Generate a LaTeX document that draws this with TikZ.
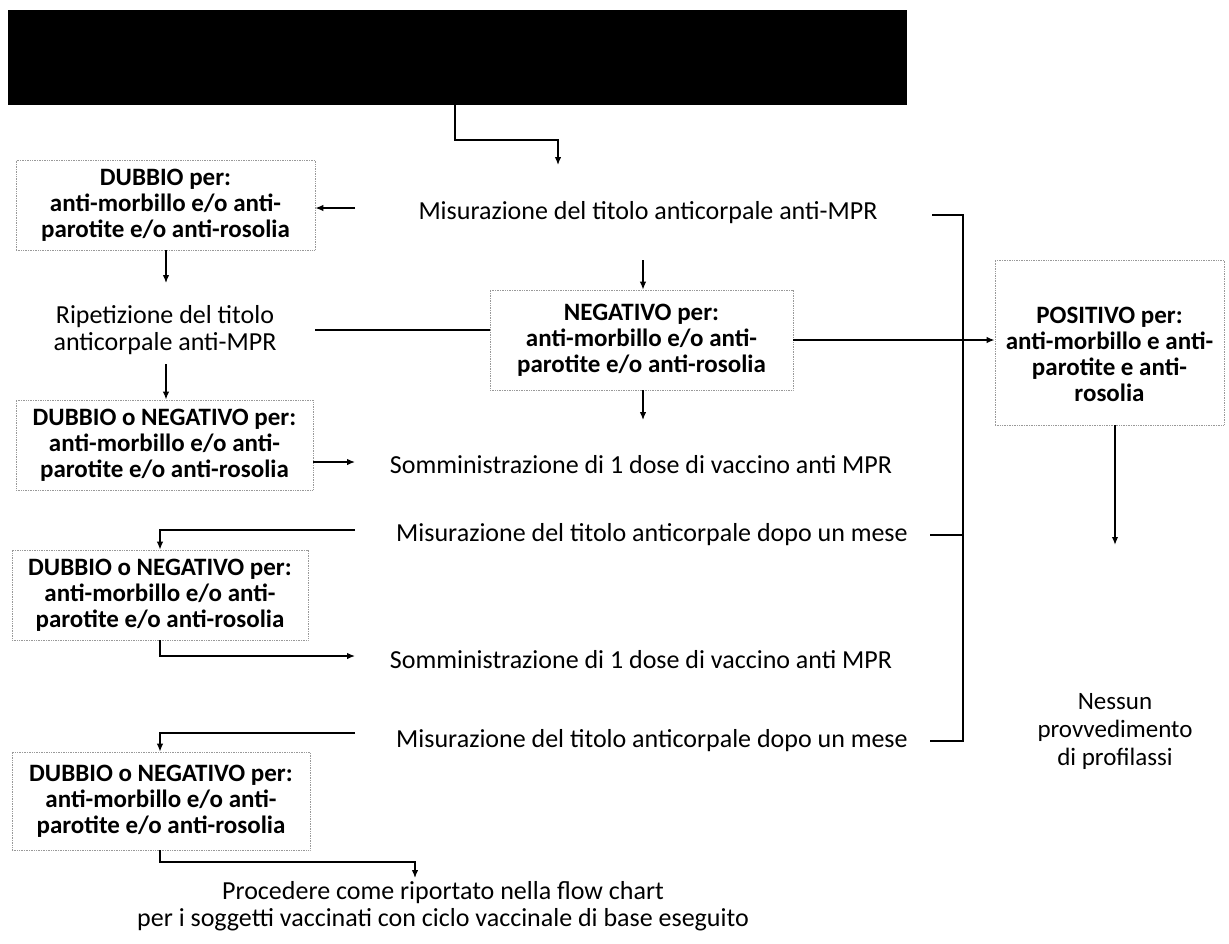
\documentclass[tikz,border=0pt]{standalone}
\usepackage{fontspec}
\setmainfont{Carlito}
\usetikzlibrary{arrows.meta}
\begin{document}
\begin{tikzpicture}[x=1pt,y=-1pt,
  txt/.style={align=center,font=\fontsize{26}{27}\selectfont,inner sep=0pt},
  box/.style={draw=black!40,densely dotted,line width=0.7pt,align=center,
    font=\fontsize{25}{26}\selectfont\bfseries,inner sep=0pt},
  btxt/.style={align=center,font=\fontsize{25}{26}\selectfont\bfseries,inner sep=0pt},
  thin/.style={line width=1.3pt},
  thick/.style={line width=2.4pt},
  arr/.style={-{Latex[length=8pt,width=6.5pt]}}]
\useasboundingbox (0,0) rectangle (1229,943);
% title bar
\node[fill=black,minimum width=899pt,minimum height=95pt,inner sep=0pt] (bar) at (457.5,57.5) {};
% texts
\node[txt] (m1) at (648,213) {Misurazione del titolo anticorpale anti-MPR};
\node[box,minimum width=299pt,minimum height=90pt] (dub) at (165.5,205)
  {DUBBIO per:\\anti-morbillo e/o anti-\\parotite e/o anti-rosolia};
\node[txt] (rip) at (165,330) {Ripetizione del titolo\\anticorpale anti-MPR};
\node[box,minimum width=303pt,minimum height=100pt] (neg) at (641.5,340)
  {NEGATIVO per:\\anti-morbillo e/o anti-\\parotite e/o anti-rosolia};
\node[box,minimum width=229pt,minimum height=165pt] (pos) at (1109.5,342.5) {};
\node[btxt] (postxt) at (1109.5,354) {POSITIVO per:\\anti-morbillo e anti-\\parotite e anti-\\rosolia};
\node[txt,font=\fontsize{25}{28}\selectfont] (nes) at (1115,731) {Nessun\\provvedimento\\di profilassi};
\node[box,minimum width=297pt,minimum height=90pt] (dn1) at (164.5,445)
  {DUBBIO o NEGATIVO per:\\anti-morbillo e/o anti-\\parotite e/o anti-rosolia};
\node[txt] (s1) at (641,465) {Somministrazione di 1 dose di vaccino anti MPR};
\node[txt] (m2) at (652,535) {Misurazione del titolo anticorpale dopo un mese};
\node[box,minimum width=296pt,minimum height=90pt] (dn2) at (160,595)
  {DUBBIO o NEGATIVO per:\\anti-morbillo e/o anti-\\parotite e/o anti-rosolia};
\node[txt] (s2) at (641,660) {Somministrazione di 1 dose di vaccino anti MPR};
\node[txt] (m3) at (652,741) {Misurazione del titolo anticorpale dopo un mese};
\node[box,minimum width=298pt,minimum height=98pt] (dn3) at (161,801)
  {DUBBIO o NEGATIVO per:\\anti-morbillo e/o anti-\\parotite e/o anti-rosolia};
\node[txt] (proc) at (443,906) {Procedere come riportato nella flow chart\\per i soggetti vaccinati con ciclo vaccinale di base eseguito};
% helper coordinates
\coordinate (c1) at (355,208);
\coordinate (c2) at (355,462);
\coordinate (c3) at (355,530);
\coordinate (c4) at (355,656);
\coordinate (c5) at (355,733);
\coordinate (b1) at (932,215);
\coordinate (b2) at (930,535);
\coordinate (b3) at (930,741);
\coordinate (bx) at (963,340);
% connectors
\draw[thin,arr] (bar.south -| 455,0) -- (455,140) -- (558,140) -- (558,165);
\draw[thin,arr] (c1) -- (dub.east |- c1);
\draw[thin,arr] (dub.south -| 166,0) -- (166,283);
\draw[thick] (315,330) -- (neg.west |- 0,330);
\draw[thin,arr] (643,260) -- (neg.north -| 643,0);
\draw[thin,arr] (neg.south -| 643,0) -- (643,420);
\draw[thick,arr] (neg.east) -- (pos.west |- neg.east);
\draw[thick] (b1) -- (b1 -| bx) -- (b3 -| bx) -- (b3);
\draw[thick] (b2) -- (b2 -| bx);
\draw[thick,arr] (pos.south -| 1115,0) -- (1115,545);
\draw[thick,arr] (166,364) -- (dn1.north -| 166,0);
\draw[thin,arr] (dn1.east |- c2) -- (c2);
\draw[thin,arr] (c3) -- (160,530) -- (dn2.north);
\draw[thin,arr] (dn2.south) -- (160,656) -- (c4);
\draw[thin,arr] (c5) -- (160,733) -- (dn3.north -| 160,0);
\draw[thin,arr] (dn3.south -| 160,0) -- (160,862) -- (415,862) -- (415,878);
\end{tikzpicture}
\end{document}
